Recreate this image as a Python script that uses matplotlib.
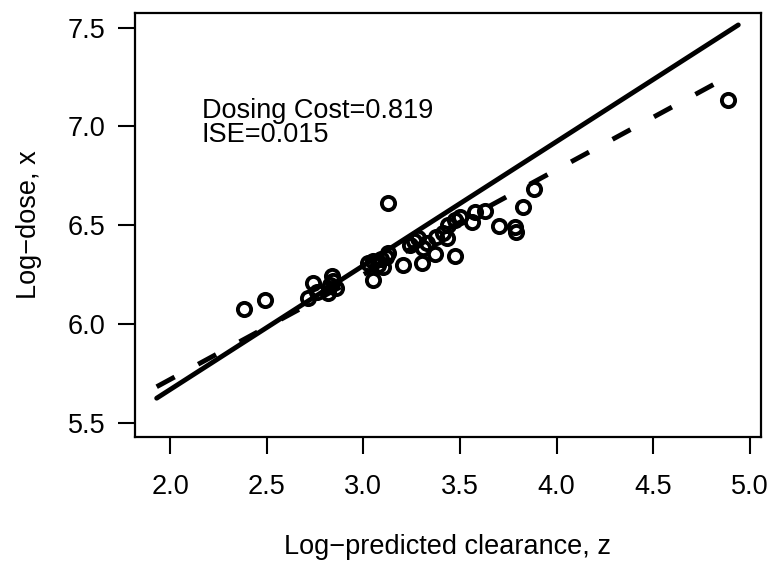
import matplotlib
matplotlib.use('Agg')
import matplotlib.pyplot as plt

# log-predicted clearance (z) vs log-dose (x)
z = [2.383, 2.491, 2.716, 2.738, 2.762, 2.819, 2.828, 2.836, 2.859, 2.845,
     3.026, 3.052, 3.050, 3.078, 3.090, 3.104, 3.115, 3.129, 3.129,
     3.207, 3.242, 3.260, 3.285, 3.302, 3.310, 3.330, 3.370, 3.378,
     3.413, 3.431, 3.440, 3.474, 3.474, 3.500, 3.561, 3.578, 3.630,
     3.704, 3.785, 3.790, 3.825, 3.884, 4.885]
x = [6.074, 6.121, 6.130, 6.209, 6.163, 6.155, 6.197, 6.243, 6.180, 6.215,
     6.307, 6.223, 6.320, 6.300, 6.330, 6.290, 6.340, 6.358, 6.611,
     6.298, 6.400, 6.420, 6.434, 6.307, 6.383, 6.410, 6.353, 6.442,
     6.459, 6.434, 6.501, 6.346, 6.526, 6.543, 6.518, 6.568, 6.573,
     6.497, 6.492, 6.465, 6.591, 6.682, 7.134]

# solid and dashed reference lines (end points)
solid_z = [1.931, 4.940]
solid_x = [5.624, 7.514]
dash_z = [1.931, 4.830]
dash_x = [5.682, 7.222]

stats_lines = ['Dosing Cost=0.819', 'ISE=0.015']

plt.rcParams['font.family'] = ['Liberation Sans', 'DejaVu Sans']
fs = 19.5

fig = plt.figure(figsize=(7.76, 5.64), dpi=100)
ax = fig.add_axes([0.174, 0.2257, 0.8063, 0.7518])

ax.plot(solid_z, solid_x, color='black', lw=3.5, solid_capstyle='round')
ax.plot(dash_z, dash_x, color='black', lw=3.5, dashes=(4.2, 5.5))
ax.plot(z, x, 'o', mfc='none', mec='black', ms=9.5, mew=2.8)

ax.text(2.164, 6.923, '\n'.join(stats_lines), fontsize=fs,
        va='baseline', linespacing=0.9)

ax.set_xlim(1.819, 5.056)
ax.set_ylim(5.429, 7.576)
ax.set_xticks([2.0, 2.5, 3.0, 3.5, 4.0, 4.5, 5.0])
ax.set_yticks([5.5, 6.0, 6.5, 7.0, 7.5])
ax.tick_params(axis='both', direction='out', length=12.5, width=1.5,
               labelsize=fs)
ax.tick_params(axis='x', pad=14)
ax.tick_params(axis='y', pad=9)

for s in ax.spines.values():
    s.set_linewidth(1.6)

ax.set_xlabel('Log\u2212predicted clearance, z', fontsize=fs, labelpad=25)
ax.set_ylabel('Log\u2212dose, x', fontsize=fs, labelpad=18)

fig.savefig('out.png', dpi=100)
